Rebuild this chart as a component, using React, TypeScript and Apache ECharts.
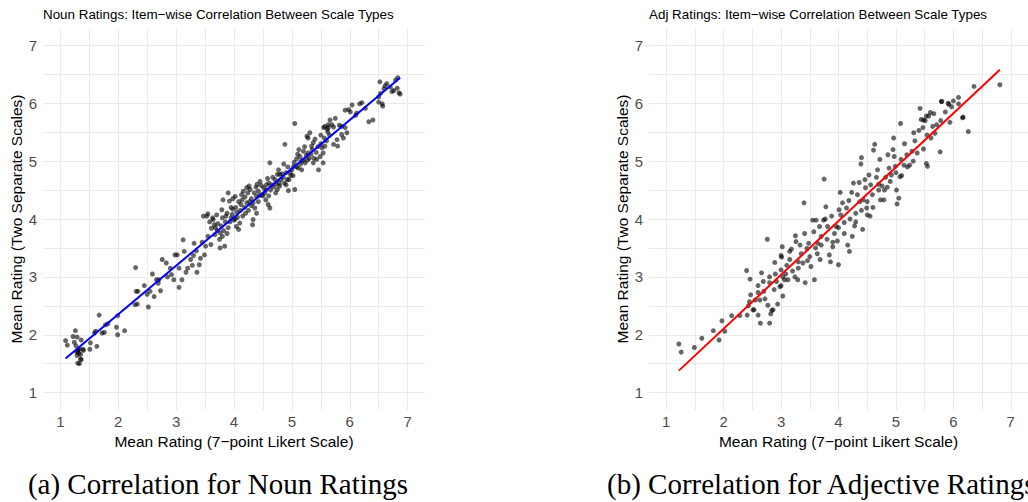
import React, { useEffect, useRef } from "react";
import * as echarts from "echarts";

// ---------- texts ----------
const nounTitle = "Noun Ratings: Item\u2212wise Correlation Between Scale Types";
const adjTitle = "Adj Ratings: Item\u2212wise Correlation Between Scale Types";
const xAxisTitle = "Mean Rating (7\u2212point Likert Scale)";
const yAxisTitle = "Mean Rating (Two Separate Scales)";
const nounCaption = "(a) Correlation for Noun Ratings";
const adjCaption = "(b) Correlation for Adjective Ratings";

// ---------- axis ----------
const axisMin = 0.7;
const axisMax = 7.3;
const tickLabels = [1, 2, 3, 4, 5, 6, 7];

// ---------- noun data [likert mean, two-scale mean] ----------
const nounPoints: number[][] = [
  [1.09, 1.90], [1.12, 1.82], [1.22, 1.97], [1.26, 2.07], [1.29, 1.96], [1.24, 1.87], [1.27, 1.81],
  [1.31, 1.74], [1.32, 1.68], [1.35, 1.66], [1.30, 1.51], [1.33, 1.50], [1.36, 1.91], [1.39, 1.75],
  [1.40, 1.73], [1.35, 1.58], [1.36, 1.57], [1.51, 1.75], [1.52, 1.86], [1.59, 2.03], [1.61, 2.06],
  [1.63, 1.80], [1.67, 2.34], [1.72, 2.03], [1.76, 2.04], [1.78, 2.17], [1.82, 2.19], [1.97, 2.13],
  [1.99, 2.00], [1.99, 2.33], [2.11, 2.07], [2.29, 2.52], [2.33, 2.53], [2.52, 2.48], [1.30, 1.72],
  [1.28, 1.70], [1.33, 1.76], [1.29, 1.64],
  [2.30, 3.16], [2.31, 2.75], [2.34, 2.75], [2.59, 3.05], [2.66, 2.95], [2.69, 2.89], [2.73, 2.76],
  [2.62, 2.66], [2.76, 3.30], [2.83, 3.24], [2.92, 3.04], [2.96, 2.95], [2.98, 3.38], [3.02, 3.38],
  [3.05, 2.82], [3.10, 2.95], [3.12, 3.64], [3.17, 3.08], [3.14, 3.44], [3.30, 3.37], [3.31, 3.58],
  [3.36, 3.08], [3.40, 3.21], [3.49, 3.38], [3.51, 3.53], [3.47, 4.05], [3.53, 4.05], [3.55, 4.09],
  [3.61, 3.84], [3.64, 3.99], [3.70, 4.07], [3.79, 4.16], [3.67, 3.73], [3.76, 3.76], [3.80, 3.70],
  [3.60, 3.56], [3.76, 3.50], [3.84, 3.53], [3.80, 4.02], [3.81, 4.33], [3.90, 4.45], [3.92, 4.31],
  [3.98, 4.17], [4.02, 4.39], [4.04, 3.87], [4.08, 3.82], [4.10, 3.93], [4.13, 4.42], [4.16, 4.48],
  [4.22, 4.54], [4.26, 4.57], [4.28, 4.51], [4.22, 4.28], [4.30, 4.23], [4.36, 4.19], [4.39, 4.10],
  [4.33, 3.99], [4.32, 3.90], [4.39, 4.39], [4.42, 4.48], [4.45, 4.65], [4.48, 4.42], [4.51, 4.54],
  [4.56, 4.59], [4.59, 4.25], [4.62, 4.19], [4.55, 4.33], [4.62, 4.97], [4.65, 4.59], [4.71, 4.68],
  [4.75, 4.77], [4.79, 4.77], [4.81, 4.68], [4.75, 4.51], [4.79, 4.57], [4.90, 4.59], [4.94, 4.49],
  [4.92, 4.68], [4.88, 5.29], [4.97, 4.80], [5.00, 4.85], [5.03, 4.91], [5.05, 4.51], [5.08, 5.04],
  [5.14, 5.08], [5.20, 5.17], [5.11, 4.88], [5.17, 4.85], [5.23, 4.97], [5.26, 5.43], [5.28, 5.40],
  [5.31, 5.49], [5.28, 5.14], [5.34, 5.26], [5.37, 5.32], [5.37, 4.97], [5.43, 5.03], [5.46, 4.85],
  [5.49, 5.08], [5.52, 5.23], [5.54, 5.14], [5.57, 5.26], [5.54, 4.97], [5.57, 5.60], [5.63, 5.58],
  [5.69, 5.63], [5.72, 5.29], [5.78, 5.37], [5.79, 5.26], [5.86, 5.46], [5.89, 5.40], [5.95, 5.49],
  [5.86, 5.60], [5.92, 5.58], [5.05, 5.65],
  [3.72, 3.92], [3.85, 3.95], [3.88, 4.10], [3.95, 4.02], [4.00, 3.98], [4.05, 4.12], [3.90, 3.85],
  [3.82, 3.80], [3.75, 3.65], [3.68, 3.85], [4.12, 4.25], [4.18, 4.20], [4.08, 4.30], [3.98, 4.35],
  [4.15, 4.05], [4.25, 4.15], [4.30, 4.35], [4.35, 4.45], [4.42, 4.30], [4.50, 4.40], [4.55, 4.50],
  [4.60, 4.62], [4.68, 4.55], [4.72, 4.45], [4.78, 4.62], [4.85, 4.72], [4.90, 4.80], [4.95, 4.68],
  [5.02, 4.75], [5.08, 4.90], [5.15, 4.95], [5.20, 5.02], [5.25, 5.10], [5.30, 5.05], [5.35, 5.20],
  [5.42, 5.15], [5.50, 5.30], [5.60, 5.35], [5.65, 5.45], [3.55, 3.70], [3.45, 3.60], [3.35, 3.45],
  [3.25, 3.30], [3.20, 3.15], [2.90, 3.15], [2.70, 2.95], [2.50, 2.70], [2.45, 2.85],
  [3.58, 3.95], [3.63, 4.02], [3.66, 3.90], [3.71, 3.80], [3.78, 3.88], [3.86, 4.05], [3.93, 3.95],
  [3.97, 4.08], [4.03, 4.20], [4.06, 4.03], [4.11, 4.15], [4.14, 4.33], [4.19, 4.38], [4.24, 4.45],
  [4.27, 4.30], [4.33, 4.28], [4.38, 4.55], [4.44, 4.40], [4.47, 4.58], [4.53, 4.45], [4.58, 4.70],
  [4.63, 4.50], [4.67, 4.72], [4.73, 4.60], [4.77, 4.85], [4.83, 4.78], [4.87, 4.62], [4.93, 4.90],
  [4.98, 4.75], [5.04, 4.98], [5.10, 5.12], [5.16, 5.00], [5.22, 5.25], [5.27, 5.02], [5.33, 5.12],
  [5.40, 5.38], [5.45, 5.25], [5.50, 5.45], [5.56, 5.40], [5.62, 5.50], [3.88, 3.75], [3.95, 4.20],
  [4.02, 4.00], [4.20, 4.10], [4.40, 4.60], [4.60, 4.40], [4.86, 4.95], [5.12, 5.20], [5.38, 5.05],
  [3.42, 3.32], [3.28, 3.20], [3.05, 3.15], [2.85, 3.00], [2.55, 2.75],
  [5.55, 5.58], [5.61, 5.55], [5.72, 5.59], [5.63, 5.63], [5.66, 5.71], [5.75, 5.74], [5.82, 5.62],
  [5.92, 5.88], [5.98, 5.89], [6.04, 5.97], [6.01, 5.85], [6.10, 5.79], [6.12, 5.83], [6.17, 5.99],
  [6.21, 6.01], [6.27, 5.91], [6.33, 5.68], [6.40, 5.71], [6.50, 6.02], [6.56, 5.99], [6.53, 6.17],
  [6.50, 6.11], [6.57, 5.95], [6.52, 6.37], [6.59, 6.25], [6.64, 6.34], [6.70, 6.28], [6.73, 6.20],
  [6.76, 6.22], [6.82, 6.26], [6.79, 6.40], [6.83, 6.44], [6.85, 6.18], [6.87, 6.16], [6.61, 6.30],
];
const nounFit: number[][] = [[1.09, 1.59], [6.87, 6.44]];

// ---------- adjective data ----------
const adjPoints: number[][] = [
  [1.22, 1.84], [1.26, 1.70], [1.49, 1.78], [1.62, 1.94], [1.82, 2.07], [1.92, 1.91], [1.97, 2.24],
  [2.02, 2.06], [2.14, 2.33], [2.28, 2.33], [2.41, 2.34], [2.45, 2.57], [2.51, 2.43], [2.60, 2.34],
  [2.64, 2.20], [2.77, 2.51], [2.80, 2.20], [2.82, 2.36], [2.84, 2.42], [2.94, 2.53], [2.63, 2.60],
  [2.40, 3.11], [2.46, 2.96], [2.47, 2.69], [2.43, 2.50], [2.60, 2.73], [2.66, 3.07], [2.53, 2.43],
  [2.86, 2.43], [2.69, 2.92], [2.76, 3.65], [2.80, 3.00], [2.89, 3.25], [2.92, 2.92], [2.98, 2.83],
  [3.00, 3.12], [3.03, 3.00], [3.01, 3.34], [3.02, 3.52], [3.03, 2.67], [3.00, 3.37], [3.06, 2.95],
  [3.12, 2.95], [3.15, 3.44], [3.25, 3.71], [3.24, 3.00], [3.26, 3.61], [3.29, 2.95], [3.30, 3.26],
  [3.38, 3.24], [3.41, 3.75], [3.40, 4.28], [3.42, 2.90], [3.45, 3.49], [3.48, 3.58], [3.52, 3.18],
  [3.55, 3.98], [3.58, 2.95], [3.61, 3.98], [3.64, 3.58], [3.67, 3.87], [3.70, 3.70], [3.68, 3.30],
  [3.74, 3.98], [3.75, 4.69], [3.78, 4.21], [3.81, 3.87], [3.84, 3.38], [3.86, 3.26], [3.90, 3.52],
  [3.93, 3.75], [3.96, 3.87], [4.00, 3.21], [4.01, 4.16], [4.03, 4.46], [4.04, 4.07], [4.10, 3.94],
  [4.14, 4.19], [4.16, 3.55], [4.19, 3.44], [4.24, 3.70], [4.23, 4.46], [4.26, 4.62], [4.30, 4.10],
  [4.33, 4.42], [4.36, 4.63], [4.39, 4.95], [4.40, 5.06], [4.42, 3.82], [4.43, 4.33], [4.47, 4.54],
  [4.49, 4.19], [4.50, 4.07], [4.53, 4.76], [4.56, 4.59], [4.59, 4.42], [4.61, 5.19], [4.63, 5.29],
  [4.66, 4.72], [4.70, 4.50], [4.72, 5.03], [4.73, 4.33], [4.76, 4.57], [4.79, 4.33], [4.85, 4.55],
  [4.86, 5.11], [4.88, 4.88], [4.92, 4.76], [4.96, 5.40], [4.97, 5.08], [4.99, 4.91], [5.01, 4.50],
  [5.02, 4.26], [5.05, 4.36], [5.07, 4.73], [5.08, 5.65], [5.09, 5.03], [5.14, 4.93], [5.19, 5.11],
  [5.24, 4.93], [5.28, 5.17], [5.31, 5.49], [5.37, 5.14], [5.40, 5.53], [5.42, 5.91], [5.44, 5.72],
  [5.48, 5.21], [5.51, 5.70], [5.53, 4.96], [5.54, 5.45], [5.55, 4.91], [5.57, 5.78], [5.60, 5.84],
  [5.61, 5.40], [5.64, 5.60], [5.68, 5.48], [5.71, 5.63], [5.77, 5.16], [5.78, 5.70], [5.80, 6.03],
  [5.91, 6.00], [5.94, 5.67], [5.97, 5.94], [6.00, 6.04], [6.09, 5.99], [6.17, 5.76], [6.26, 5.51],
  [5.48, 5.71], [5.53, 5.78], [5.79, 6.03], [5.92, 5.98], [6.09, 6.10], [6.16, 5.75], [6.36, 6.29],
  [6.81, 6.32],
  [3.10, 3.20], [3.20, 3.10], [3.35, 3.40], [3.50, 3.35], [3.60, 3.50], [3.70, 3.55], [3.80, 3.65],
  [3.90, 3.60], [4.00, 3.85], [4.10, 3.75], [4.20, 4.00], [4.30, 3.95], [4.40, 4.15], [4.50, 4.30],
  [4.60, 4.20], [4.70, 4.60], [4.80, 4.50], [4.90, 4.65], [5.00, 4.80], [5.10, 4.75], [5.20, 4.90],
  [5.30, 5.00], [2.90, 3.05], [2.80, 2.90], [2.70, 2.75], [2.60, 2.85], [3.00, 2.85], [3.15, 3.30],
  [3.30, 3.15], [2.55, 2.60],
  [2.72, 2.62], [2.88, 2.78], [3.08, 3.05], [3.18, 3.48], [3.33, 3.55], [3.46, 3.28], [3.57, 3.78],
  [3.63, 3.40], [3.77, 4.00], [3.88, 4.05], [3.98, 3.62], [4.07, 4.28], [4.18, 4.32], [4.28, 3.88],
  [4.37, 4.30], [4.46, 4.68], [4.55, 4.05], [4.68, 4.85], [4.82, 4.72], [4.95, 5.20], [5.15, 5.30],
  [5.33, 5.35], [5.47, 5.58], [5.66, 5.82], [5.86, 5.85],
];
const adjFit: number[][] = [[1.22, 1.38], [6.81, 6.58]];

const sans = "Liberation Sans, Arial, Helvetica, sans-serif";
const serif = "Liberation Serif, Times New Roman, serif";

function isTick(v: number) {
  return tickLabels.some((t) => Math.abs(t - v) < 1e-6);
}

function makeAxis(gridIndex: number, isX: boolean) {
  return {
    type: "value",
    gridIndex,
    min: axisMin,
    max: axisMax,
    splitNumber: 13,
    minInterval: 0.5,
    maxInterval: 0.5,
    name: isX ? xAxisTitle : yAxisTitle,
    nameLocation: "middle",
    nameGap: isX ? 20 : 19,
    nameTextStyle: { color: "#000", fontSize: 15.5, fontFamily: sans },
    axisLine: { show: false },
    axisTick: { show: false },
    axisLabel: {
      color: "#4d4d4d",
      fontSize: 15,
      fontFamily: sans,
      margin: isX ? 4 : 6,
      showMinLabel: false,
      showMaxLabel: false,
      formatter: (v: number) => (isTick(v) ? String(Math.round(v)) : ""),
    },
    splitLine: {
      show: true,
      showMinLine: false,
      showMaxLine: false,
      lineStyle: { color: "#ebebeb", width: 1 },
    },
  };
}

export default function App() {
  const ref = useRef<HTMLDivElement>(null);
  useEffect(() => {
    if (!ref.current) return;
    const chart = echarts.init(ref.current, null, { renderer: "svg" });
    const titleStyle = { fontSize: 13.4, fontWeight: "normal", color: "#000", fontFamily: sans };
    chart.setOption({
      animation: false,
      backgroundColor: "#fff",
      title: [
        { text: nounTitle, left: 43, top: 8, padding: 0, textStyle: titleStyle },
        { text: adjTitle, left: 649, top: 8, padding: 0, textStyle: titleStyle },
      ],
      grid: [
        { left: 43, top: 28, width: 382, height: 382, containLabel: false },
        { left: 649, top: 28, width: 382, height: 382, containLabel: false },
      ],
      xAxis: [makeAxis(0, true), makeAxis(1, true)],
      yAxis: [makeAxis(0, false), makeAxis(1, false)],
      series: [
        {
          type: "scatter",
          xAxisIndex: 0,
          yAxisIndex: 0,
          data: nounPoints,
          symbolSize: 5,
          itemStyle: { color: "#000", opacity: 0.6 },
        },
        {
          type: "line",
          xAxisIndex: 0,
          yAxisIndex: 0,
          data: nounFit,
          showSymbol: false,
          lineStyle: { color: "#0000ff", width: 2 },
          z: 5,
        },
        {
          type: "scatter",
          xAxisIndex: 1,
          yAxisIndex: 1,
          data: adjPoints,
          symbolSize: 5,
          itemStyle: { color: "#000", opacity: 0.6 },
        },
        {
          type: "line",
          xAxisIndex: 1,
          yAxisIndex: 1,
          data: adjFit,
          showSymbol: false,
          lineStyle: { color: "#ff0000", width: 2 },
          z: 5,
        },
      ],
      graphic: [
        {
          type: "text",
          x: 218,
          y: 484,
          style: {
            text: nounCaption,
            fontSize: 29,
            fontFamily: serif,
            align: "center",
            verticalAlign: "middle",
            fill: "#000",
          },
        },
        {
          type: "text",
          x: 607,
          y: 484,
          style: {
            text: adjCaption,
            fontSize: 29,
            fontFamily: serif,
            align: "left",
            verticalAlign: "middle",
            fill: "#000",
          },
        },
      ],
    });
    return () => chart.dispose();
  }, []);
  return (
    <div
      ref={ref}
      style={{ position: "absolute", left: 0, top: 0, width: 1028, height: 502 }}
    />
  );
}
